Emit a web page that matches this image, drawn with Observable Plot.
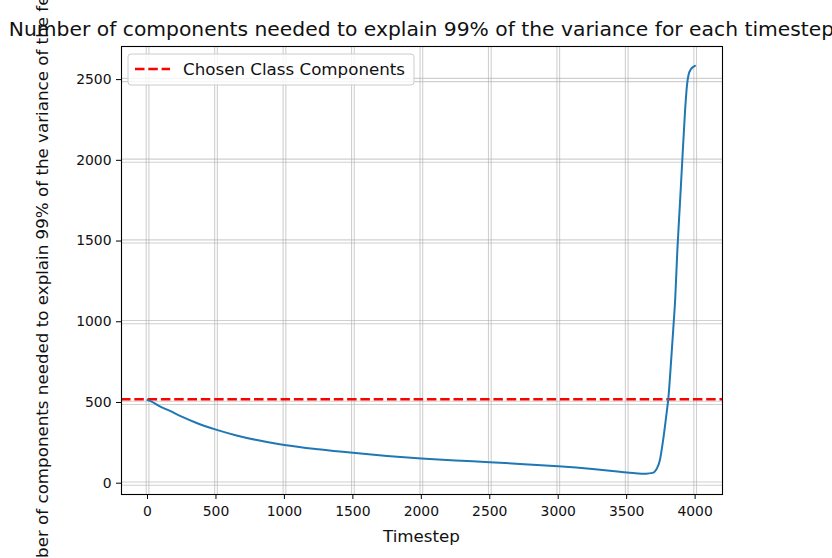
<!DOCTYPE html>
<html>
<head>
<meta charset="utf-8">
<script src="https://cdn.jsdelivr.net/npm/d3@7"></script>
<script src="https://cdn.jsdelivr.net/npm/@observablehq/plot@0.6"></script>
<style>
  html, body { margin: 0; padding: 0; background: #fff; }
  #chart { width: 832px; height: 558px; overflow: hidden; }
</style>
</head>
<body>
<div id="chart"></div>
<script>
const titleText = "Number of components needed to explain 99% of the variance for each timestep";
const xLabel = "Timestep";
const yLabel = "Number of components needed to explain 99% of the variance of the features";
const legendLabel = "Chosen Class Components";

const timesteps = [0, 30, 80, 160, 250, 350, 500, 650, 800, 1000, 1250, 1500, 1750, 2000, 2250, 2500, 2750, 3000, 3250, 3450, 3550, 3640, 3690, 3720, 3742, 3766, 3791, 3805, 3820, 3840, 3855, 3870, 3889, 3906, 3926, 3940, 3952, 3968, 3985, 3999];
const components = [515, 505, 480, 449, 412, 376, 332, 296, 267, 237, 210, 188, 169, 153, 141, 130, 118, 105, 88, 71, 63, 59, 64, 90, 140, 265, 430, 530, 700, 950, 1150, 1440, 1730, 1995, 2300, 2460, 2530, 2562, 2578, 2585];
const chosenComponents = [520];
const xTicks = [0, 500, 1000, 1500, 2000, 2500, 3000, 3500, 4000];
const yTicks = [0, 500, 1000, 1500, 2000, 2500];

const data = timesteps.map((t, i) => ({t, c: components[i]}));

const gridStyle = {stroke: "#b0b0b0", strokeOpacity: 0.6, strokeWidth: 1.1};
const fmt = d3.format("d");

const svg = Plot.plot({
  width: 832,
  height: 558,
  marginLeft: 121,
  marginRight: 110,
  marginTop: 46,
  marginBottom: 64,
  style: {fontFamily: "'DejaVu Sans', sans-serif", fontSize: "13.9px", background: "white", color: "#111"},
  x: {domain: [-190, 4200], ticks: xTicks},
  y: {domain: [-70, 2705], ticks: yTicks},
  marks: [
    Plot.gridX(xTicks, {...gridStyle, dx: -1.3}),
    Plot.gridX(xTicks, {...gridStyle, dx: 1.4}),
    Plot.gridY(yTicks, {...gridStyle, dy: -1.2}),
    Plot.gridY(yTicks, {...gridStyle, dy: 2}),
    Plot.ruleY(chosenComponents, {stroke: "red", strokeWidth: 2.6, strokeDasharray: "9.5,3.8"}),
    Plot.line(data, {x: "t", y: "c", stroke: "#1f77b4", strokeWidth: 2, curve: "monotone-x"}),
    Plot.frame({stroke: "#000", strokeWidth: 1.1}),
    Plot.axisX(xTicks, {tickSize: 5, tickPadding: 7, tickFormat: fmt, label: null, stroke: "#000"}),
    Plot.axisY(yTicks, {tickSize: 5, tickPadding: 5, tickFormat: fmt, label: null, stroke: "#000"})
  ]
});

const s = d3.select(svg);
const font = "'DejaVu Sans', sans-serif";

// x label
s.append("text")
  .attr("x", 421.5).attr("y", 542)
  .attr("text-anchor", "middle")
  .attr("font-family", font).attr("font-size", 16.7).attr("fill", "#111")
  .text(xLabel);

// y label
s.append("text")
  .attr("transform", "translate(48,270) rotate(-90)")
  .attr("text-anchor", "middle")
  .attr("font-family", font).attr("font-size", 16.7).attr("fill", "#111")
  .text(yLabel);

// title
s.append("text")
  .attr("x", 421.5).attr("y", 36)
  .attr("text-anchor", "middle")
  .attr("font-family", font).attr("font-size", 20.3).attr("fill", "#111")
  .text(titleText);

// legend
const lg = s.append("g");
lg.append("rect")
  .attr("x", 128).attr("y", 54).attr("width", 286).attr("height", 31)
  .attr("rx", 3).attr("ry", 3)
  .attr("fill", "white").attr("fill-opacity", 0.8)
  .attr("stroke", "#cccccc").attr("stroke-width", 1);
lg.append("line")
  .attr("x1", 135).attr("x2", 170).attr("y1", 69).attr("y2", 69)
  .attr("stroke", "red").attr("stroke-width", 2.6).attr("stroke-dasharray", "9.5,3.8");
lg.append("text")
  .attr("x", 183).attr("y", 75)
  .attr("text-anchor", "start")
  .attr("font-family", font).attr("font-size", 16.7).attr("fill", "#111")
  .text(legendLabel);

document.getElementById("chart").appendChild(svg);
</script>
</body>
</html>
